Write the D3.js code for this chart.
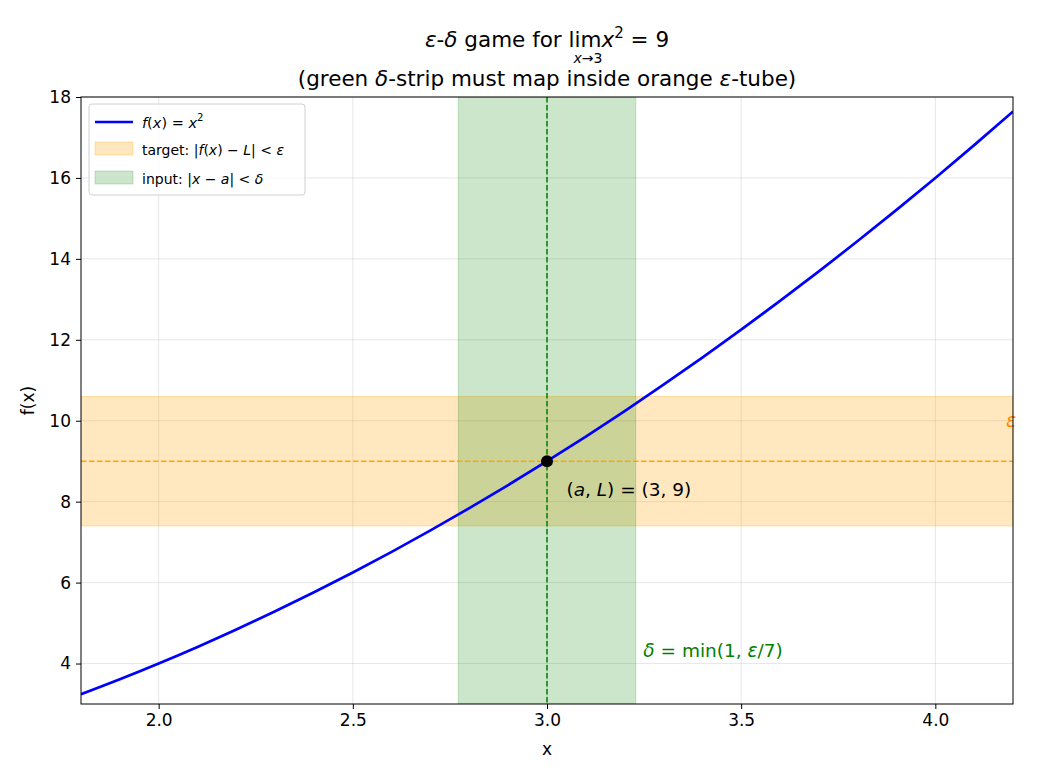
<!DOCTYPE html>
<html>
<head>
<meta charset="utf-8">
<script src="https://cdn.jsdelivr.net/npm/d3@7"></script>
<style>
  body { margin: 0; background: #fff; }
  text { font-family: "DejaVu Sans", sans-serif; }
</style>
</head>
<body>
<script>
// curve samples of f(x) = x^2
var xs = [1.8, 1.9, 2.0, 2.1, 2.2, 2.3, 2.4, 2.5, 2.6, 2.7, 2.8, 2.9, 3.0,
          3.1, 3.2, 3.3, 3.4, 3.5, 3.6, 3.7, 3.8, 3.9, 4.0, 4.1, 4.2];
var ys = [3.24, 3.61, 4.00, 4.41, 4.84, 5.29, 5.76, 6.25, 6.76, 7.29, 7.84, 8.41, 9.00,
          9.61, 10.24, 10.89, 11.56, 12.25, 12.96, 13.69, 14.44, 15.21, 16.00, 16.81, 17.64];
var xTicks = [2.0, 2.5, 3.0, 3.5, 4.0];
var yTicks = [4, 6, 8, 10, 12, 14, 16, 18];
var a = 3, L = 9, eps = 1.6, delta = 1.6 / 7;

draw();

function draw() {
  var width = 1040, height = 780;
  var mLeft = 81, mRight = 1013, mTop = 97, mBottom = 704;

  var svg = d3.select("body").append("svg")
      .attr("width", width).attr("height", height);

  var x = d3.scaleLinear().domain([1.8, 4.2]).range([mLeft, mRight]);
  var y = d3.scaleLinear().domain([3, 18]).range([mBottom, mTop]);

  svg.append("clipPath").attr("id", "clip")
    .append("rect").attr("x", mLeft).attr("y", mTop)
    .attr("width", mRight - mLeft).attr("height", mBottom - mTop);

  // grid
  var grid = svg.append("g");
  grid.selectAll(".gx").data(xTicks).enter().append("line")
      .attr("x1", d => x(d)).attr("x2", d => x(d))
      .attr("y1", mTop).attr("y2", mBottom)
      .attr("stroke", "#b0b0b0").attr("stroke-opacity", 0.3).attr("stroke-width", 1);
  grid.selectAll(".gy").data(yTicks).enter().append("line")
      .attr("y1", d => y(d)).attr("y2", d => y(d))
      .attr("x1", mLeft).attr("x2", mRight)
      .attr("stroke", "#b0b0b0").attr("stroke-opacity", 0.3).attr("stroke-width", 1);

  var plot = svg.append("g").attr("clip-path", "url(#clip)");

  // epsilon tube
  plot.append("rect")
      .attr("x", mLeft).attr("width", mRight - mLeft)
      .attr("y", y(L + eps)).attr("height", y(L - eps) - y(L + eps))
      .attr("fill", "orange").attr("fill-opacity", 0.25)
      .attr("stroke", "orange").attr("stroke-opacity", 0.3);

  // delta strip
  plot.append("rect")
      .attr("x", x(a - delta)).attr("width", x(a + delta) - x(a - delta))
      .attr("y", mTop).attr("height", mBottom - mTop)
      .attr("fill", "green").attr("fill-opacity", 0.2)
      .attr("stroke", "green").attr("stroke-opacity", 0.2);

  // dashed guides
  plot.append("line")
      .attr("x1", mLeft).attr("x2", mRight).attr("y1", y(L)).attr("y2", y(L))
      .attr("stroke", "orange").attr("stroke-width", 1.5).attr("stroke-dasharray", "5.5,2.5");
  plot.append("line")
      .attr("x1", x(a)).attr("x2", x(a)).attr("y1", mTop).attr("y2", mBottom)
      .attr("stroke", "green").attr("stroke-width", 1.5).attr("stroke-dasharray", "5.5,2.5");

  // curve
  var pts = xs.map((v, i) => [v, ys[i]]);
  var line = d3.line().x(d => x(d[0])).y(d => y(d[1])).curve(d3.curveMonotoneX);
  plot.append("path").attr("d", line(pts))
      .attr("fill", "none").attr("stroke", "blue").attr("stroke-width", 2.7);

  // point (a, L)
  svg.append("circle").attr("cx", x(a)).attr("cy", y(L)).attr("r", 6).attr("fill", "black");

  // annotations
  var ann = svg.append("text").attr("x", x(3.05)).attr("y", y(8.15))
      .attr("font-size", 18.5).attr("fill", "black");
  ann.append("tspan").text("(");
  ann.append("tspan").attr("font-style", "italic").text("a");
  ann.append("tspan").text(", ");
  ann.append("tspan").attr("font-style", "italic").text("L");
  ann.append("tspan").text(") = (3, 9)");

  var dl = svg.append("text").attr("x", x(3.248)).attr("y", y(4.15))
      .attr("font-size", 18.5).attr("fill", "green");
  dl.append("tspan").attr("font-style", "italic").text("δ");
  dl.append("tspan").text(" = min(1, ");
  dl.append("tspan").attr("font-style", "italic").text("ε");
  dl.append("tspan").text("/7)");

  svg.append("text").attr("x", x(4.195)).attr("y", y(10) + 6)
      .attr("text-anchor", "middle").attr("font-size", 19)
      .attr("font-style", "italic").attr("fill", "darkorange").text("ε");

  // axes frame
  svg.append("rect").attr("x", mLeft).attr("y", mTop)
      .attr("width", mRight - mLeft).attr("height", mBottom - mTop)
      .attr("fill", "none").attr("stroke", "black").attr("stroke-width", 1);

  var xAxis = d3.axisBottom(x).tickValues(xTicks).tickFormat(d3.format(".1f")).tickSize(5).tickPadding(5);
  var yAxis = d3.axisLeft(y).tickValues(yTicks).tickFormat(d3.format("d")).tickSize(5).tickPadding(5);
  var gx = svg.append("g").attr("transform", "translate(0," + mBottom + ")").call(xAxis);
  var gy = svg.append("g").attr("transform", "translate(" + mLeft + ",0)").call(yAxis);
  [gx, gy].forEach(function (g) {
    g.select(".domain").remove();
    g.selectAll("text").attr("font-size", 17).attr("fill", "black")
      .attr("font-family", "DejaVu Sans, sans-serif");
    g.selectAll("line").attr("stroke", "black");
  });

  svg.append("text").attr("x", (mLeft + mRight) / 2).attr("y", 755)
      .attr("text-anchor", "middle").attr("font-size", 17).text("x");
  svg.append("text").attr("transform", "translate(34," + ((mTop + mBottom) / 2) + ") rotate(-90)")
      .attr("text-anchor", "middle").attr("font-size", 17).text("f(x)");

  // title
  var cx = (mLeft + mRight) / 2;
  var t1 = svg.append("text").attr("x", cx).attr("y", 47)
      .attr("text-anchor", "middle").attr("font-size", 21.5);
  t1.append("tspan").attr("font-style", "italic").text("ε");
  t1.append("tspan").text("-");
  t1.append("tspan").attr("font-style", "italic").text("δ");
  t1.append("tspan").text(" game for ");
  var lim = t1.append("tspan").text("lim");
  t1.append("tspan").attr("font-style", "italic").text("x");
  t1.append("tspan").attr("font-size", 15).attr("dy", -9).text("2");
  t1.append("tspan").attr("dy", 9).text(" = 9");
  // centre the x→3 under "lim"
  var tn = t1.node();
  var full = tn.textContent;
  var iLim = full.indexOf("lim");
  var limStart = tn.getStartPositionOfChar(iLim).x;
  var limEnd = tn.getEndPositionOfChar(iLim + 2).x;
  svg.append("text").attr("x", (limStart + limEnd) / 2 + 3).attr("y", 63)
      .attr("text-anchor", "middle").attr("font-size", 14)
      .html('<tspan font-style="italic">x</tspan>→3');

  var t2 = svg.append("text").attr("x", cx).attr("y", 86)
      .attr("text-anchor", "middle").attr("font-size", 21.5);
  t2.append("tspan").text("(green ");
  t2.append("tspan").attr("font-style", "italic").text("δ");
  t2.append("tspan").text("-strip must map inside orange ");
  t2.append("tspan").attr("font-style", "italic").text("ε");
  t2.append("tspan").text("-tube)");

  // legend
  var lg = svg.append("g").attr("transform", "translate(89,104)");
  lg.append("rect").attr("width", 216).attr("height", 91).attr("rx", 3)
      .attr("fill", "white").attr("fill-opacity", 0.8)
      .attr("stroke", "#d0d0d0").attr("stroke-width", 1);
  lg.append("line").attr("x1", 6).attr("x2", 44).attr("y1", 18).attr("y2", 18)
      .attr("stroke", "blue").attr("stroke-width", 2.7);
  lg.append("rect").attr("x", 6).attr("y", 38).attr("width", 38).attr("height", 13)
      .attr("fill", "orange").attr("fill-opacity", 0.25).attr("stroke", "orange").attr("stroke-opacity", 0.3);
  lg.append("rect").attr("x", 6).attr("y", 67).attr("width", 38).attr("height", 13)
      .attr("fill", "green").attr("fill-opacity", 0.2).attr("stroke", "green").attr("stroke-opacity", 0.2);

  var l1 = lg.append("text").attr("x", 53).attr("y", 24).attr("font-size", 14.5);
  l1.append("tspan").attr("font-style", "italic").text("f");
  l1.append("tspan").text("(");
  l1.append("tspan").attr("font-style", "italic").text("x");
  l1.append("tspan").text(") = ");
  l1.append("tspan").attr("font-style", "italic").text("x");
  l1.append("tspan").attr("font-size", 10).attr("dy", -7).text("2");

  var l2 = lg.append("text").attr("x", 53).attr("y", 51).attr("font-size", 14);
  l2.append("tspan").text("target: |");
  l2.append("tspan").attr("font-style", "italic").text("f");
  l2.append("tspan").text("(");
  l2.append("tspan").attr("font-style", "italic").text("x");
  l2.append("tspan").text(") − ");
  l2.append("tspan").attr("font-style", "italic").text("L");
  l2.append("tspan").text("| < ");
  l2.append("tspan").attr("font-style", "italic").text("ε");

  var l3 = lg.append("text").attr("x", 53).attr("y", 80).attr("font-size", 14);
  l3.append("tspan").text("input: |");
  l3.append("tspan").attr("font-style", "italic").text("x");
  l3.append("tspan").text(" − ");
  l3.append("tspan").attr("font-style", "italic").text("a");
  l3.append("tspan").text("| < ");
  l3.append("tspan").attr("font-style", "italic").text("δ");
}
</script>
</body>
</html>
